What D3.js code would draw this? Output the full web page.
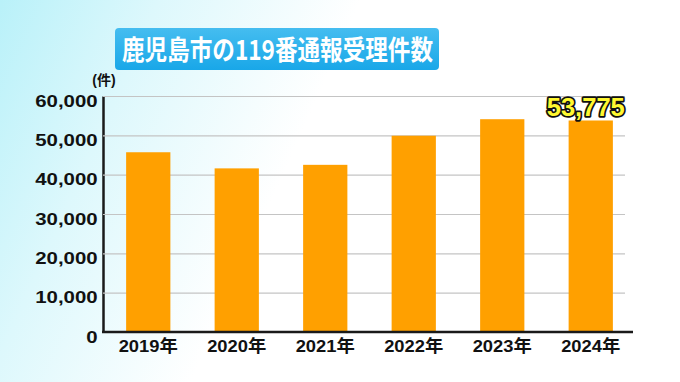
<!DOCTYPE html>
<html><head><meta charset="utf-8">
<script src="https://cdn.jsdelivr.net/npm/d3@7"></script>
<style>
html,body{margin:0;padding:0;background:#fff;}
svg{display:block;}
</style></head>
<body>
<svg id="c" width="680" height="382"></svg>
<script>
const years = ["2019", "2020", "2021", "2022", "2023", "2024"];
const calls = [45700, 41600, 42500, 49900, 54100, 53775];
const yTicks = [0, 10000, 20000, 30000, 40000, 50000, 60000];
const titleText = "鹿児島市の119番通報受理件数";
const unitText = "(件)";
const highlightLabel = "53,775";

const W = 680, H = 382;
const svg = d3.select("#c");
const defs = svg.append("defs");

const bg = defs.append("linearGradient").attr("id", "bg").attr("x1", "0").attr("y1", "0").attr("x2", "1").attr("y2", "0.25");
bg.append("stop").attr("offset", "0").attr("stop-color", "#b9f1f9");
bg.append("stop").attr("offset", "0.22").attr("stop-color", "#ddf8fc");
bg.append("stop").attr("offset", "0.5").attr("stop-color", "#ffffff");
bg.append("stop").attr("offset", "1").attr("stop-color", "#ffffff");
svg.append("rect").attr("width", W).attr("height", H).attr("fill", "url(#bg)");

const tg = defs.append("linearGradient").attr("id", "tg").attr("x1", "0").attr("y1", "0").attr("x2", "0").attr("y2", "1");
tg.append("stop").attr("offset", "0").attr("stop-color", "#45bdf0");
tg.append("stop").attr("offset", "1").attr("stop-color", "#19a7e8");

// title
svg.append("rect").attr("x", 115).attr("y", 28).attr("width", 324).attr("height", 42).attr("rx", 4)
  .attr("fill", "url(#tg)");
svg.append("text").attr("x", 122).attr("y", 60)
  .attr("font-family", "'Noto Sans CJK JP', sans-serif").attr("font-weight", 700).attr("font-size", 27)
  .attr("fill", "#fff").attr("textLength", 311).attr("lengthAdjust", "spacingAndGlyphs")
  .text(titleText);

const x = d3.scaleBand().domain(years).range([104, 635]).paddingInner(0.5).paddingOuter(0.25);
const y = d3.scaleLinear().domain([0, 60000]).range([332, 96]);

const font = "'Liberation Sans', 'Noto Sans CJK JP', Arial, sans-serif";

// y axis with grid
const ya = svg.append("g").attr("transform", "translate(103,0)")
  .call(d3.axisLeft(y).tickValues(yTicks).tickFormat(d3.format(",")).tickSizeInner(-522).tickSizeOuter(0).tickPadding(6));
ya.select(".domain").attr("stroke", "#1a1a1a").attr("stroke-width", 2.5);
ya.selectAll(".tick line").attr("stroke", "#c4c4c4").attr("stroke-width", 1.2)
  .filter(d => d === 0).remove();
ya.selectAll(".tick text").attr("font-family", font).attr("font-weight", 700).attr("font-size", 17)
  .attr("fill", "#111").attr("x", -4.5).attr("dy", "0.6em")
  .attr("transform", "scale(1.2,1)");

// bars
svg.append("g").selectAll("rect").data(years).join("rect")
  .attr("x", d => x(d)).attr("width", x.bandwidth())
  .attr("y", (d, i) => y(calls[i])).attr("height", (d, i) => y(0) - y(calls[i]))
  .attr("fill", "#ffa000");

// x axis
const xa = svg.append("g").attr("transform", "translate(0,332)")
  .call(d3.axisBottom(x).tickSize(0).tickPadding(8).tickFormat(d => d + "年"));
xa.select(".domain").attr("stroke", "#1a1a1a").attr("stroke-width", 2.5).attr("d", "M102,0H633");
xa.selectAll(".tick text").attr("font-family", font).attr("font-weight", 700).attr("font-size", 17)
  .attr("fill", "#111").attr("transform", "scale(1.08,1)");

// unit label
svg.append("text").attr("x", 104).attr("y", 85).attr("text-anchor", "middle")
  .attr("font-family", font).attr("font-weight", 700).attr("font-size", 14).attr("fill", "#111")
  .text(unitText);

// highlight label
const li = years.length - 1;
svg.append("text").attr("x", x(years[li]) + x.bandwidth() / 2 - 5).attr("y", y(calls[li]) - 4)
  .attr("text-anchor", "middle").attr("font-family", font).attr("font-weight", 700).attr("font-size", 25.5)
  .attr("fill", "#fff830").attr("stroke", "#111").attr("stroke-width", 3.5).attr("paint-order", "stroke")
  .attr("stroke-linejoin", "round")
  .text(highlightLabel);
</script>
</body></html>
